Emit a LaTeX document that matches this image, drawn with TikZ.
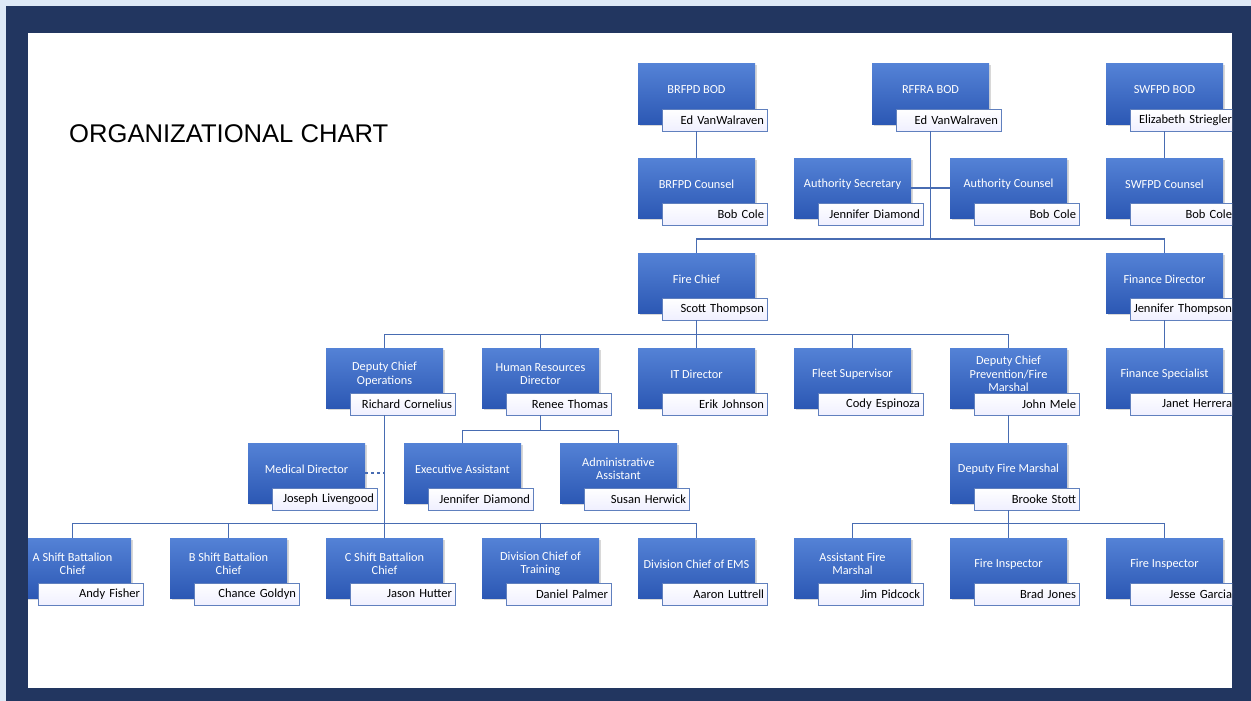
\documentclass[tikz,border=0pt]{standalone}
\usepackage{fontspec}
\setmainfont{Carlito}
\newfontfamily\titlefont{Liberation Sans}
\usetikzlibrary{shadows}

\definecolor{paleback}{RGB}{222,233,246}
\definecolor{navyframe}{RGB}{34,54,96}
\definecolor{boxtop}{RGB}{84,130,214}
\definecolor{boxbottom}{RGB}{44,88,180}
\definecolor{linkblue}{RGB}{72,108,178}
\definecolor{nameedge}{RGB}{96,128,190}

% box with title and name tab: #1 name, #2 centre x, #3 top y, #4 title, #5 person
\newcommand{\rolebox}[5]{%
  \node[rolebox] (#1) at (#2,#3+30) {};
  \node[roletitle] (#1-t) at ([yshift=4pt]#1.center) {#4};
  \node[rolename] (#1-n) at (#2+18,#3+56) {#5};
}

\begin{document}
\begin{tikzpicture}[x=1pt, y=-1pt,
    rolebox/.style={minimum width=117pt, minimum height=60pt, inner sep=0pt,
      top color=boxtop, bottom color=boxbottom,
      drop shadow={shadow xshift=1.5pt, shadow yshift=-1.5pt, opacity=0.3}},
    roletitle/.style={text=white, align=center, inner sep=0pt,
      font=\fontsize{12.3}{13.5}\selectfont},
    rolename/.style={minimum width=105pt, minimum height=22pt, inner sep=0pt,
      text width=99pt, align=right, draw=nameedge, line width=0.8pt,
      top color=white, bottom color=blue!6, text=black,
      font=\fontsize{12.5}{13}\selectfont},
    link/.style={draw=linkblue, line width=1.3pt}]
  \useasboundingbox (0,0) rectangle (1251,701);
  \fill[paleback] (0,0) rectangle (1251,701);
  \fill[navyframe] (6,6) rectangle (1251,701);
  \fill[white] (28,33) rectangle (1232,688);

  \begin{scope}
    \clip (28,33) rectangle (1232,688);
    \node[anchor=base west, inner sep=0pt, font=\titlefont\fontsize{25.6}{27}\selectfont]
      (title) at (69,142) {ORGANIZATIONAL CHART};

    % boards and counsel
    \rolebox{brfpd}{696.5}{64}{BRFPD BOD}{Ed VanWalraven}
    \rolebox{rffra}{930.5}{64}{RFFRA BOD}{Ed VanWalraven}
    \rolebox{swfpd}{1164.5}{64}{SWFPD BOD}{Elizabeth Striegler}
    \rolebox{brfpdc}{696.5}{158}{BRFPD Counsel}{Bob Cole}
    \rolebox{asec}{852.5}{158}{Authority Secretary}{Jennifer Diamond}
    \rolebox{acoun}{1008.5}{158}{Authority Counsel}{Bob Cole}
    \rolebox{swfpdc}{1164.5}{158}{SWFPD Counsel}{Bob Cole}

    % chief level
    \rolebox{chief}{696.5}{253}{Fire Chief}{Scott Thompson}
    \rolebox{fin}{1164.5}{253}{Finance Director}{Jennifer Thompson}

    \rolebox{dco}{384.5}{348}{Deputy Chief\\Operations}{Richard Cornelius}
    \rolebox{hr}{540.5}{348}{Human Resources\\Director}{Renee Thomas}
    \rolebox{it}{696.5}{348}{IT Director}{Erik Johnson}
    \rolebox{fleet}{852.5}{348}{Fleet Supervisor}{Cody Espinoza}
    \rolebox{dcp}{1008.5}{348}{Deputy Chief\\Prevention/Fire\\Marshal}{John Mele}
    \rolebox{finsp}{1164.5}{348}{Finance Specialist}{Janet Herrera}

    \rolebox{med}{306.5}{443}{Medical Director}{Joseph Livengood}
    \rolebox{exec}{462.5}{443}{Executive Assistant}{Jennifer Diamond}
    \rolebox{admin}{618.5}{443}{Administrative\\Assistant}{Susan Herwick}
    \rolebox{dfm}{1008.5}{443}{Deputy Fire Marshal}{Brooke Stott}

    \rolebox{bca}{72.5}{538}{A Shift Battalion\\Chief}{Andy Fisher}
    \rolebox{bcb}{228.5}{538}{B Shift Battalion\\Chief}{Chance Goldyn}
    \rolebox{bcc}{384.5}{538}{C Shift Battalion\\Chief}{Jason Hutter}
    \rolebox{train}{540.5}{538}{Division Chief of\\Training}{Daniel Palmer}
    \rolebox{ems}{696.5}{538}{Division Chief of EMS}{Aaron Luttrell}
    \rolebox{afm}{852.5}{538}{Assistant Fire\\Marshal}{Jim Pidcock}
    \rolebox{insa}{1008.5}{538}{Fire Inspector}{Brad Jones}
    \rolebox{insb}{1164.5}{538}{Fire Inspector}{Jesse Garcia}

    % connectors
    \draw[link] (brfpd-n.south -| brfpd) -- (brfpdc.north);
    \draw[link] (swfpd-n.south -| swfpd) -- (swfpdc.north);
    \draw[link] (asec.east) -- (acoun.west);
    \foreach \c in {chief,fin}
      \draw[link] (rffra-n.south -| rffra) -- (930.5,239) -| (\c.north);
    \foreach \c in {dco,hr,it,fleet,dcp}
      \draw[link] (chief-n.south -| chief) -- ++(0,14) -| (\c.north);
    \draw[link] (fin-n.south -| fin) -- (finsp.north);
    \foreach \c in {exec,admin}
      \draw[link] (hr-n.south -| hr) -- ++(0,15) -| (\c.north);
    \foreach \c in {bca,bcb,bcc,train,ems}
      \draw[link] (dco-n.south -| dco) -- ++(0,108) -| (\c.north);
    \draw[link, dashed] (med.east) -- (med.east -| dco);
    \draw[link] (dcp-n.south -| dcp) -- (dfm.north);
    \foreach \c in {afm,insa,insb}
      \draw[link] (dfm-n.south -| dfm) -- ++(0,13) -| (\c.north);
  \end{scope}
\end{tikzpicture}
\end{document}
